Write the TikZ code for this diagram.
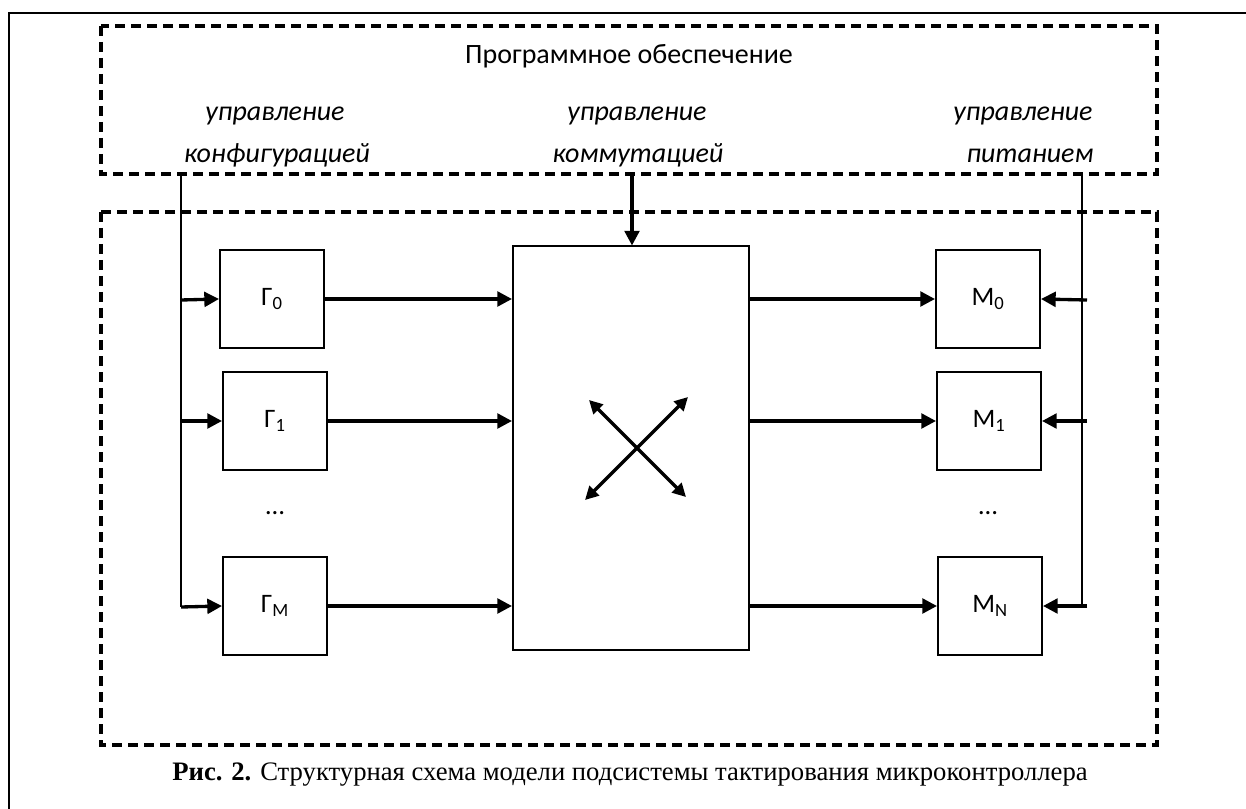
\documentclass[tikz,border=0pt]{standalone}
\usepackage{fontspec}
\setmainfont{Carlito}
\newfontfamily\capfont{Liberation Serif}
\usetikzlibrary{arrows.meta}
\tikzset{
  frame/.style={line width=1.5pt},
  dashbox/.style={line width=2.6pt, dash pattern=on 7.5pt off 4.5pt},
  blockbox/.style={draw, line width=1.5pt, minimum width=78pt, minimum height=73pt, inner sep=0pt, font=\fontsize{20}{24}\selectfont},
  bigbox/.style={draw, line width=1.5pt, inner sep=0pt},
  feed/.style={line width=1.6pt},
  arr/.style={line width=2.5pt, -{Triangle[length=11pt,width=11pt]}},
  carr/.style={line width=2.5pt, {Triangle[length=10pt,width=10pt]}-{Triangle[length=10pt,width=10pt]}},
  lbl/.style={font=\itshape\fontsize{21}{25}\selectfont, anchor=base, inner sep=0pt},
  ttl/.style={font=\fontsize{21}{25}\selectfont, anchor=base, inner sep=0pt},
}
\begin{document}
\begin{tikzpicture}[x=0.75pt,y=-0.75pt]
\fill[white] (0,0) rectangle (1246,809);
\useasboundingbox (0,0) rectangle (1246,809);
% outer frame
\draw[frame] (9,809) -- (9,13) -- (1246,13);
% dashed boxes
\draw[dashbox] (101,26) rectangle (1157,174);
\draw[dashbox] (101,212) rectangle (1157,745);
% texts
\node[ttl] (title) at (629,64) {Программное обеспечение};
\node[lbl] (l1a) at (275,121) {управление};
\node[lbl] (l1b) at (277,163) {конфигурацией};
\node[lbl] (l2a) at (637,121) {управление};
\node[lbl] (l2b) at (638,163) {коммутацией};
\node[lbl] (l3a) at (1023,121) {управление};
\node[lbl] (l3b) at (1030,163) {питанием};
% blocks
\node[blockbox] (g0) at (272,299) {Г\textsubscript{0}};
\node[blockbox] (g1) at (275,421) {Г\textsubscript{1}};
\node[blockbox] (gm) at (275,606) {Г\textsubscript{M}};
\node[blockbox] (m0) at (988,299) {М\textsubscript{0}};
\node[blockbox] (m1) at (989,421) {М\textsubscript{1}};
\node[blockbox] (mn) at (990,606) {М\textsubscript{N}};
\node[font=\fontsize{20}{24}\selectfont] (d1) at (275,513) {…};
\node[font=\fontsize{20}{24}\selectfont] (d2) at (988,513) {…};
\node[bigbox, minimum width=177pt, minimum height=302.25pt] (sw) at (631,448) {};
% feed lines
\coordinate (lt) at (181,174);
\coordinate (lb) at (181,607);
\coordinate (rt) at (1082,174);
\coordinate (rb) at (1082,606);
\draw[feed] (lt) -- (lb);
\draw[feed] (rt) -- (rb);
\coordinate (la0) at (181,300);
\coordinate (la1) at (181,421);
\coordinate (ra0) at (1087,300);
\coordinate (ra1) at (1087,421);
\coordinate (ran) at (1087,606);
\draw[arr] (la0) -- (g0.west);
\draw[arr] (la1) -- (g1.west);
\draw[arr] (lb) -- (gm.west);
\draw[arr] (ra0) -- (m0.east);
\draw[arr] (ra1) -- (m1.east);
\draw[arr] (ran) -- (mn.east);
% block to switch
\draw[arr] (g0.east) -- (g0.east -| sw.west);
\draw[arr] (g1.east) -- (g1.east -| sw.west);
\draw[arr] (gm.east) -- (gm.east -| sw.west);
\draw[arr] (m0.west -| sw.east) -- (m0.west);
\draw[arr] (m1.west -| sw.east) -- (m1.west);
\draw[arr] (mn.west -| sw.east) -- (mn.west);
% control arrow
\coordinate (ct) at (632,174);
\draw[arr] (ct) -- (ct |- sw.north);
% cross
\coordinate (c1) at (589,400);
\coordinate (c2) at (686,497);
\coordinate (c3) at (688,397);
\coordinate (c4) at (585,500);
\draw[carr] (c1) -- (c2);
\draw[carr] (c4) -- (c3);
% caption
\node[font=\capfont\fontsize{20}{24}\selectfont, anchor=base, inner sep=0pt] (cap) at (630,780) {\textbf{Рис. 2.} Структурная схема модели подсистемы тактирования микроконтроллера};
\end{tikzpicture}
\end{document}
